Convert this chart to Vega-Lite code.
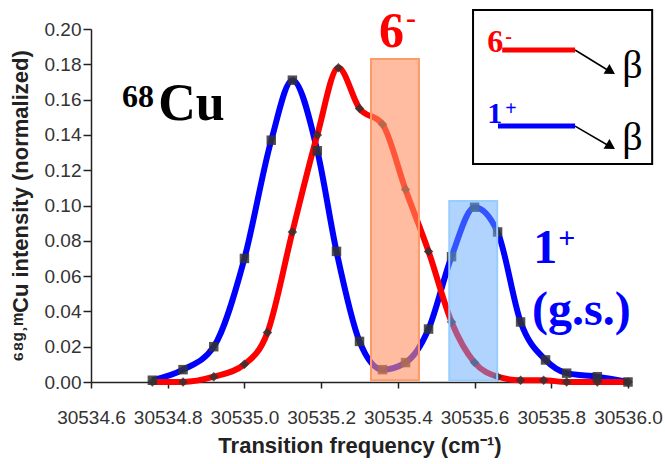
{
  "$schema": "https://vega.github.io/schema/vega-lite/v6.json",
  "width": 537,
  "height": 353,
  "autosize": {"type": "none"},
  "padding": {"left": 91, "top": 29, "right": 37, "bottom": 82},
  "background": "white",
  "config": {
    "view": {"stroke": null},
    "axis": {
      "grid": false,
      "labelFont": "Liberation Sans",
      "titleFont": "Liberation Sans",
      "labelColor": "#333333",
      "titleColor": "#222222",
      "domainColor": "#222222",
      "tickColor": "#222222",
      "domainWidth": 1.5,
      "tickWidth": 1.5,
      "titleFontWeight": "bold",
      "labelOverlap": false,
      "labelBound": false,
      "labelFlush": false
    }
  },
  "datasets": {
    "series": [
      {"freq": 30534.76, "val": 0.001, "state": "1+"},
      {"freq": 30534.84, "val": 0.007, "state": "1+"},
      {"freq": 30534.92, "val": 0.020, "state": "1+"},
      {"freq": 30535.00, "val": 0.070, "state": "1+"},
      {"freq": 30535.07, "val": 0.137, "state": "1+"},
      {"freq": 30535.125, "val": 0.171, "state": "1+"},
      {"freq": 30535.19, "val": 0.131, "state": "1+"},
      {"freq": 30535.24, "val": 0.074, "state": "1+"},
      {"freq": 30535.30, "val": 0.023, "state": "1+"},
      {"freq": 30535.36, "val": 0.007, "state": "1+"},
      {"freq": 30535.42, "val": 0.011, "state": "1+"},
      {"freq": 30535.48, "val": 0.030, "state": "1+"},
      {"freq": 30535.54, "val": 0.071, "state": "1+"},
      {"freq": 30535.60, "val": 0.099, "state": "1+"},
      {"freq": 30535.66, "val": 0.085, "state": "1+"},
      {"freq": 30535.72, "val": 0.034, "state": "1+"},
      {"freq": 30535.785, "val": 0.0125, "state": "1+"},
      {"freq": 30535.84, "val": 0.005, "state": "1+"},
      {"freq": 30535.92, "val": 0.003, "state": "1+"},
      {"freq": 30536.00, "val": 0.000, "state": "1+"},
      {"freq": 30534.76, "val": 0.000, "state": "6-"},
      {"freq": 30534.84, "val": 0.000, "state": "6-"},
      {"freq": 30534.92, "val": 0.003, "state": "6-"},
      {"freq": 30535.00, "val": 0.010, "state": "6-"},
      {"freq": 30535.06, "val": 0.028, "state": "6-"},
      {"freq": 30535.125, "val": 0.085, "state": "6-"},
      {"freq": 30535.19, "val": 0.140, "state": "6-"},
      {"freq": 30535.245, "val": 0.178, "state": "6-"},
      {"freq": 30535.30, "val": 0.155, "state": "6-"},
      {"freq": 30535.36, "val": 0.146, "state": "6-"},
      {"freq": 30535.42, "val": 0.109, "state": "6-"},
      {"freq": 30535.48, "val": 0.074, "state": "6-"},
      {"freq": 30535.54, "val": 0.034, "state": "6-"},
      {"freq": 30535.60, "val": 0.011, "state": "6-"},
      {"freq": 30535.66, "val": 0.003, "state": "6-"},
      {"freq": 30535.72, "val": 0.001, "state": "6-"},
      {"freq": 30535.78, "val": 0.001, "state": "6-"},
      {"freq": 30535.84, "val": 0.000, "state": "6-"},
      {"freq": 30535.92, "val": 0.000, "state": "6-"},
      {"freq": 30536.00, "val": 0.000, "state": "6-"}
    ]
  },
  "layer": [
    {
      "data": {"name": "series"},
      "mark": {"type": "line", "strokeWidth": 6, "interpolate": "monotone"},
      "encoding": {
        "x": {
          "field": "freq", "type": "quantitative",
          "scale": {"domain": [30534.6, 30536.0], "nice": false, "zero": false},
          "axis": {
            "title": "Transition frequency (cm⁻¹)",
            "values": [30534.6, 30534.8, 30535.0, 30535.2, 30535.4, 30535.6, 30535.8, 30536.0],
            "format": ".1f",
            "labelOverlap": false,
            "labelFontSize": 19,
            "labelPadding": 20,
            "tickSize": 6,
            "titleFontSize": 22,
            "titlePadding": 8
          }
        },
        "y": {
          "field": "val", "type": "quantitative",
          "scale": {"domain": [0, 0.2], "nice": false},
          "axis": {
            "title": "⁶⁸ᵍ˒ᵐCu intensity (normalized)",
            "values": [0, 0.02, 0.04, 0.06, 0.08, 0.1, 0.12, 0.14, 0.16, 0.18, 0.2],
            "tickCount": 11,
            "labelOverlap": false,
            "format": ".2f",
            "labelFontSize": 19,
            "labelPadding": 2,
            "tickSize": 8,
            "titleFontSize": 22,
            "titlePadding": 12
          }
        },
        "color": {
          "field": "state", "type": "nominal",
          "scale": {"domain": ["1+", "6-"], "range": ["#0000FF", "#FF0000"]},
          "legend": null
        }
      }
    },
    {
      "data": {"name": "series"},
      "mark": {"type": "point", "filled": true, "color": "#333333", "opacity": 0.85, "size": 90},
      "encoding": {
        "x": {"field": "freq", "type": "quantitative"},
        "y": {"field": "val", "type": "quantitative"},
        "shape": {
          "field": "state", "type": "nominal",
          "scale": {"domain": ["1+", "6-"], "range": ["square", "diamond"]},
          "legend": null
        }
      }
    },
    {
      "data": {"values": [{"freq": 30535.33, "freq2": 30535.455, "val": 0.001, "val2": 0.183}]},
      "mark": {"type": "rect", "fill": "#FF9060", "fillOpacity": 0.6, "stroke": "#FF9966", "strokeWidth": 2},
      "encoding": {
        "x": {"field": "freq", "type": "quantitative"},
        "x2": {"field": "freq2"},
        "y": {"field": "val", "type": "quantitative"},
        "y2": {"field": "val2"}
      }
    },
    {
      "data": {"values": [{"freq": 30535.534, "freq2": 30535.659, "val": 0.001, "val2": 0.1025}]},
      "mark": {"type": "rect", "fill": "#64AAFF", "fillOpacity": 0.5, "stroke": "#99CCFF", "strokeWidth": 2},
      "encoding": {
        "x": {"field": "freq", "type": "quantitative"},
        "x2": {"field": "freq2"},
        "y": {"field": "val", "type": "quantitative"},
        "y2": {"field": "val2"}
      }
    },
    {
      "data": {"values": [{"freq": 30535.596, "freq2": 30536.063, "val": 0.1235, "val2": 0.2108}]},
      "mark": {"type": "rect", "fill": "white", "stroke": "black", "strokeWidth": 2},
      "encoding": {
        "x": {"field": "freq", "type": "quantitative"},
        "x2": {"field": "freq2"},
        "y": {"field": "val", "type": "quantitative"},
        "y2": {"field": "val2"}
      }
    },
    {
      "data": {"values": [
        {"freq": 30535.672, "freq2": 30535.862, "val": 0.1881, "state": "6-"},
        {"freq": 30535.661, "freq2": 30535.862, "val": 0.1450, "state": "1+"}
      ]},
      "mark": {"type": "rule", "strokeWidth": 5},
      "encoding": {
        "x": {"field": "freq", "type": "quantitative"},
        "x2": {"field": "freq2"},
        "y": {"field": "val", "type": "quantitative"},
        "color": {"field": "state", "type": "nominal", "legend": null}
      }
    },
    {
      "data": {"values": [
        {"freq": 30535.862, "freq2": 30535.951, "val": 0.1881, "val2": 0.1762},
        {"freq": 30535.862, "freq2": 30535.951, "val": 0.1450, "val2": 0.1337}
      ]},
      "mark": {"type": "rule", "strokeWidth": 1.5, "color": "black"},
      "encoding": {
        "x": {"field": "freq", "type": "quantitative"},
        "x2": {"field": "freq2"},
        "y": {"field": "val", "type": "quantitative"},
        "y2": {"field": "val2"}
      }
    },
    {
      "data": {"values": [
        {"freq": 30535.955, "val": 0.1760},
        {"freq": 30535.955, "val": 0.1335}
      ]},
      "mark": {"type": "point", "shape": "triangle-right", "filled": true, "color": "black", "opacity": 1, "size": 130, "angle": 31},
      "encoding": {
        "x": {"field": "freq", "type": "quantitative"},
        "y": {"field": "val", "type": "quantitative"}
      }
    },
    {
      "data": {"values": [{"t": "Cu", "freq": 30534.775, "val": 0.1484}]},
      "mark": {"type": "text", "font": "Liberation Serif", "fontWeight": "bold", "fontSize": 52, "align": "left", "baseline": "alphabetic", "color": "black"},
      "encoding": {"x": {"field": "freq", "type": "quantitative"}, "y": {"field": "val", "type": "quantitative"}, "text": {"field": "t"}}
    },
    {
      "data": {"values": [{"t": "68", "freq": 30534.681, "val": 0.1558}]},
      "mark": {"type": "text", "font": "Liberation Serif", "fontWeight": "bold", "fontSize": 32, "align": "left", "baseline": "alphabetic", "color": "black"},
      "encoding": {"x": {"field": "freq", "type": "quantitative"}, "y": {"field": "val", "type": "quantitative"}, "text": {"field": "t"}}
    },
    {
      "data": {"values": [{"t": "β", "freq": 30535.985, "val": 0.1722}, {"t": "β", "freq": 30535.985, "val": 0.1314}]},
      "mark": {"type": "text", "font": "Liberation Serif", "fontSize": 40, "align": "left", "baseline": "alphabetic", "color": "black"},
      "encoding": {"x": {"field": "freq", "type": "quantitative"}, "y": {"field": "val", "type": "quantitative"}, "text": {"field": "t"}}
    },
    {
      "data": {"values": [{"t": "6", "freq": 30535.351, "val": 0.1898}]},
      "mark": {"type": "text", "font": "Liberation Serif", "fontWeight": "bold", "fontSize": 50, "align": "left", "baseline": "alphabetic", "color": "#FF0000"},
      "encoding": {"x": {"field": "freq", "type": "quantitative"}, "y": {"field": "val", "type": "quantitative"}, "text": {"field": "t"}}
    },
    {
      "data": {"values": [{"t": "-", "freq": 30535.421, "val": 0.2003}]},
      "mark": {"type": "text", "font": "Liberation Serif", "fontWeight": "bold", "fontSize": 30, "align": "left", "baseline": "alphabetic", "color": "#FF0000"},
      "encoding": {"x": {"field": "freq", "type": "quantitative"}, "y": {"field": "val", "type": "quantitative"}, "text": {"field": "t"}}
    },
    {
      "data": {"values": [{"t": "6", "freq": 30535.633, "val": 0.187}]},
      "mark": {"type": "text", "font": "Liberation Serif", "fontWeight": "bold", "fontSize": 32, "align": "left", "baseline": "alphabetic", "color": "#FF0000"},
      "encoding": {"x": {"field": "freq", "type": "quantitative"}, "y": {"field": "val", "type": "quantitative"}, "text": {"field": "t"}}
    },
    {
      "data": {"values": [{"t": "-", "freq": 30535.680, "val": 0.192}]},
      "mark": {"type": "text", "font": "Liberation Serif", "fontWeight": "bold", "fontSize": 20, "align": "left", "baseline": "alphabetic", "color": "#FF0000"},
      "encoding": {"x": {"field": "freq", "type": "quantitative"}, "y": {"field": "val", "type": "quantitative"}, "text": {"field": "t"}}
    },
    {
      "data": {"values": [{"t": "1", "freq": 30535.753, "val": 0.0674}, {"t": "(g.s.)", "freq": 30535.75, "val": 0.0323}]},
      "mark": {"type": "text", "font": "Liberation Serif", "fontWeight": "bold", "fontSize": 48, "align": "left", "baseline": "alphabetic", "color": "#0000FF"},
      "encoding": {"x": {"field": "freq", "type": "quantitative"}, "y": {"field": "val", "type": "quantitative"}, "text": {"field": "t"}}
    },
    {
      "data": {"values": [{"t": "+", "freq": 30535.818, "val": 0.0762}, {"t": "1", "freq": 30535.633, "val": 0.1467}]},
      "mark": {"type": "text", "font": "Liberation Serif", "fontWeight": "bold", "fontSize": 30, "align": "left", "baseline": "alphabetic", "color": "#0000FF"},
      "encoding": {"x": {"field": "freq", "type": "quantitative"}, "y": {"field": "val", "type": "quantitative"}, "text": {"field": "t"}}
    },
    {
      "data": {"values": [{"t": "+", "freq": 30535.680, "val": 0.1513}]},
      "mark": {"type": "text", "font": "Liberation Serif", "fontWeight": "bold", "fontSize": 20, "align": "left", "baseline": "alphabetic", "color": "#0000FF"},
      "encoding": {"x": {"field": "freq", "type": "quantitative"}, "y": {"field": "val", "type": "quantitative"}, "text": {"field": "t"}}
    }
  ]
}
